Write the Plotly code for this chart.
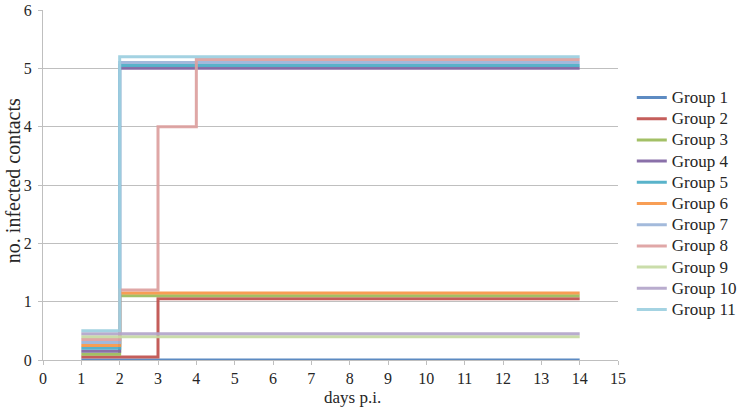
import plotly.graph_objects as go

days = list(range(1, 15))
group_names = [f"Group {i}" for i in range(1, 12)]

g1 = [0.0] * 14
g2 = [0.05, 0.05] + [1.05] * 12
g3 = [0.10] + [1.10] * 13
g4 = [0.15] + [5.00] * 13
g5 = [0.20] + [5.05] * 13
g6 = [0.25] + [1.15] * 13
g7 = [0.30] + [5.10] * 13
g8 = [0.35, 1.20, 4.00] + [5.15] * 11
g9 = [0.40] * 14
g10 = [0.45] * 14
g11 = [0.50] + [5.20] * 13
series = [g1, g2, g3, g4, g5, g6, g7, g8, g9, g10, g11]

colors = ["#4F81BD", "#C0504D", "#9BBB59", "#8064A2", "#4BACC6", "#F79646",
          "#9BB4D8", "#DDA09F", "#C6DAA3", "#B3A5CA", "#9CCFE0"]

y_ticks = [0, 1, 2, 3, 4, 5, 6]
x_ticks = list(range(0, 16))
x_title = "days p.i."
y_title = "no. infected contacts"

fig = go.Figure()
for name, vals, col in zip(group_names, series, colors):
    fig.add_trace(go.Scatter(x=days, y=vals, mode="lines",
                             name=f"<span style='font-size:17px'>{name}</span>",
                             line=dict(color=col, width=3, shape="hv"),
                             opacity=0.92))

font = "Liberation Serif, Times New Roman, Times, serif"
txt = "#262626"
fig.update_layout(
    width=743, height=407,
    margin=dict(l=43, r=125, t=10, b=47, autoexpand=False),
    paper_bgcolor="white", plot_bgcolor="white",
    font=dict(family=font, size=16, color=txt),
    showlegend=True,
    legend=dict(x=1.024, xanchor="left", y=0.446, yanchor="middle",
                font=dict(family=font, size=14, color=txt),
                tracegroupgap=0, itemwidth=30, bgcolor="rgba(0,0,0,0)"),
    xaxis=dict(range=[0, 15], tickvals=x_ticks, ticks="outside", ticklen=4,
               tickcolor="#BFBFBF", showgrid=False, zeroline=False,
               showline=True, linecolor="#BFBFBF", linewidth=1, automargin=False,
               tickfont=dict(size=16, color=txt)),
    yaxis=dict(range=[0, 6], tickvals=y_ticks, showgrid=True,
               gridcolor="#BFBFBF", gridwidth=1, zeroline=False,
               showline=True, linecolor="#BFBFBF", linewidth=1, automargin=False,
               ticks="outside", ticklen=4, tickcolor="#BFBFBF",
               ticklabelstandoff=3,
               tickfont=dict(size=16, color=txt)),
    annotations=[
        dict(text=x_title, xref="paper", yref="paper", x=0.539, y=-0.106,
             xanchor="center", yanchor="middle", showarrow=False,
             font=dict(family=font, size=17, color=txt)),
        dict(text=y_title, xref="paper", yref="paper", x=-0.051, y=0.513,
             xanchor="center", yanchor="middle", textangle=-90, showarrow=False,
             font=dict(family=font, size=20, color=txt)),
    ],
)
fig.write_html("out.html", config={"displayModeBar": False},
               post_script="document.body.style.margin='0px';")
